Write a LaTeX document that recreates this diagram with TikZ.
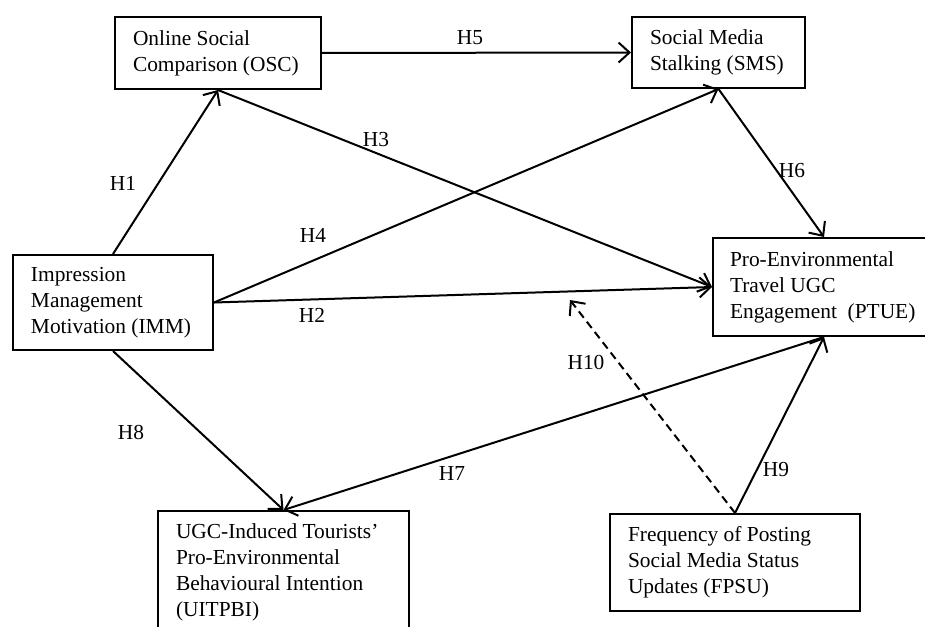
\documentclass[tikz,border=0pt]{standalone}
\usepackage{fontspec}
\setmainfont{Liberation Serif}
\usepackage{tikz}
\usetikzlibrary{arrows.meta}

\tikzset{
	construct/.style={draw,line width=1pt,anchor=north west,align=flush left,inner xsep=9pt,inner ysep=0pt,font=\fontsize{10.7}{13}\selectfont,execute at begin node={\spaceskip=0pt\xspaceskip=0pt\relax}},
	hyp/.style={-{Straight Barb[length=5.5pt,width=10pt]},line width=1pt},
	hlabel/.style={font=\fontsize{10.7}{13}\selectfont,inner sep=0pt}
}

\begin{document}
\begin{tikzpicture}[x=0.5pt,y=-0.5pt]
	\useasboundingbox (0,0) rectangle (925,626);
	\clip (0,0) rectangle (925,626);

	%CONSTRUCTS
	\node[construct,text width=85pt,minimum height=36pt] (OSC) at (114,16) {Online Social\\Comparison (OSC)};
	\node[construct,text width=68.5pt,minimum height=35.5pt] (SMS) at (631,16) {Social Media\\Stalking (SMS)};
	\node[construct,text width=82pt,minimum height=47.5pt] (IMM) at (12,254) {Impression\\Management\\Motivation (IMM)};
	\node[construct,text width=94pt,inner xsep=8.5pt,minimum height=49pt] (PTUE) at (712,237) {Pro-Environmental\\Travel UGC\\Engagement\ \ (PTUE)};
	\node[construct,text width=107.5pt,minimum height=61.5pt] (UITPBI) at (157,510) {UGC-Induced Tourists'\\Pro-Environmental\\Behavioural Intention\\(UITPBI)};
	\node[construct,text width=107pt,minimum height=48.5pt] (FPSU) at (609,513) {Frequency of Posting\\Social Media Status\\Updates (FPSU)};

	%PATHS
	\draw[hyp] (IMM.north)--(OSC.south); %H1
	\draw[hyp] (IMM.east)--(PTUE.west); %H2
	\draw[hyp] (OSC.south)--(PTUE.west); %H3
	\draw[hyp] (IMM.east)--(SMS.south); %H4
	\draw[hyp] (OSC.east)--(SMS.west); %H5
	\draw[hyp] (SMS.south)--(PTUE.north); %H6
	\draw[hyp,{Straight Barb[length=5.5pt,width=10pt]}-] (UITPBI.north)--(PTUE.south); %H7
	\draw[hyp] (IMM.south)--(UITPBI.north); %H8
	\draw[hyp] (FPSU.north)--(PTUE.south); %H9
	%
	\coordinate (mod) at (570,300);
	\draw[hyp,dashed,dash pattern=on 4pt off 2.5pt] (FPSU.north)--(mod); %H10

	%LABELS
	\node[hlabel] (h1) at (123,183) {H1};
	\node[hlabel] (h2) at (312,315) {H2};
	\node[hlabel] (h3) at (376,140) {H3};
	\node[hlabel] (h4) at (313,235) {H4};
	\node[hlabel] (h5) at (470,38) {H5};
	\node[hlabel] (h6) at (792,171) {H6};
	\node[hlabel] (h7) at (452,473) {H7};
	\node[hlabel] (h8) at (131,432) {H8};
	\node[hlabel] (h9) at (776,470) {H9};
	\node[hlabel] (h10) at (586,362) {H10};
\end{tikzpicture}
\end{document}
